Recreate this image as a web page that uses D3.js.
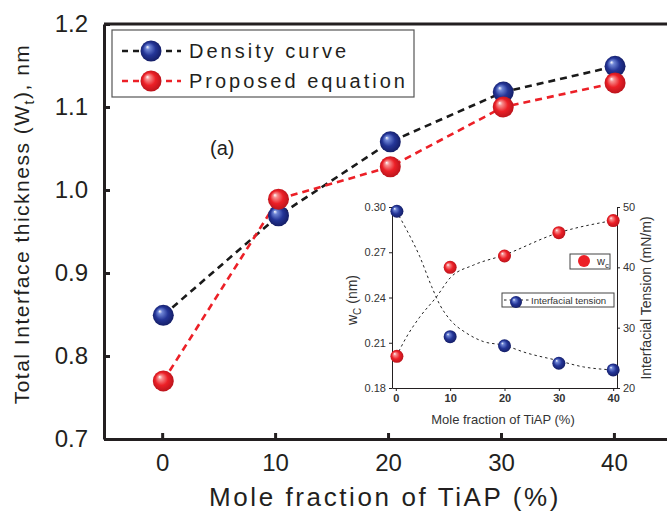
<!DOCTYPE html>
<html>
<head>
<meta charset="utf-8">
<script src="https://cdn.jsdelivr.net/npm/d3@7/dist/d3.min.js"></script>
<style>
	body { margin: 0; background: #fff; }
	svg { display: block; font-family: Arial, "Liberation Sans", sans-serif; }
</style>
</head>
<body>
<div id="render"></div>
<script>
// main chart data
const moleFraction = [0.1, 10.3, 20.2, 30.2, 40.1];
const densityCurve = [0.849, 0.969, 1.058, 1.118, 1.149];
const proposedEquation = [0.770, 0.989, 1.028, 1.100, 1.129];
const xTicks = [0, 10, 20, 30, 40];
const yTicks = [0.7, 0.8, 0.9, 1.0, 1.1, 1.2];

// inset data
const insetX = [0.2, 10, 20, 30, 40];
const wcValues = [0.201, 0.260, 0.2675, 0.283, 0.291];
const tensionValues = [49.3, 28.5, 27.0, 24.1, 23.0];
const wcFitX = [0.1, 2, 4.4, 7.5, 10, 14.3, 19.8, 29.6, 39.9];
const wcFit = [0.201, 0.214, 0.227, 0.2405, 0.253, 0.2615, 0.268, 0.2825, 0.291];
const tensionFitX = [0.1, 2, 4.4, 6.6, 8.1, 10, 13, 16.1, 19.8, 24.1, 29.6, 34.5, 39.9];
const tensionFit = [49.3, 46.2, 41.8, 36.8, 33.8, 31.3, 29.1, 27.7, 27.1, 25.8, 24.6, 23.5, 23.0];
const insetYTicks = [0.18, 0.21, 0.24, 0.27, 0.30];
const insetRightTicks = [20, 30, 40, 50];

const INK = '#231f20';
const W = 667, H = 517;

const attrs = (sel, _attrs)=>{
	for (const i in _attrs) {
		sel.attr(i, _attrs[i]);
	}
	return sel;
};

const svg = d3.select('#render').append('svg');
attrs(svg, { width: W, height: H, viewBox: `0 0 ${W} ${H}` });

// sphere gradients
const defs = svg.append('defs');
const sphere = (id, light, base, dark)=>{
	const g = attrs(defs.append('radialGradient'), { id, cx: '50%', cy: '50%', r: '55%', fx: '32%', fy: '30%' });
	g.append('stop').attr('offset', '0%').attr('stop-color', '#ffffff');
	g.append('stop').attr('offset', '18%').attr('stop-color', light);
	g.append('stop').attr('offset', '55%').attr('stop-color', base);
	g.append('stop').attr('offset', '100%').attr('stop-color', dark);
};
sphere('blueBall', '#6f86d6', '#243597', '#121a5e');
sphere('redBall', '#f79090', '#ec2027', '#b3121a');

// main scales
const x = d3.scaleLinear().domain([-5.15, 44.7]).range([104, 667]);
const y = d3.scaleLinear().domain([0.7, 1.2]).range([439, 24]);

const styleAxis = (g, size)=>{
	g.select('.domain').attr('stroke', INK).attr('stroke-width', 3);
	g.selectAll('.tick line').attr('stroke', INK).attr('stroke-width', 3);
	g.selectAll('.tick text').attr('fill', INK).attr('font-family', null).style('font-size', size + 'px');
};

const gx = svg.append('g').attr('transform', 'translate(0,439)')
	.call(d3.axisBottom(x).tickValues(xTicks).tickSizeInner(-6).tickSizeOuter(0).tickPadding(15).tickFormat(d3.format('d')));
styleAxis(gx, 24);

const gy = svg.append('g').attr('transform', 'translate(104,0)')
	.call(d3.axisLeft(y).tickValues(yTicks).tickSizeInner(-6).tickSizeOuter(0).tickPadding(16).tickFormat(d3.format('.1f')));
styleAxis(gy, 24);

// top frame line
attrs(svg.append('line'), { x1: 104, x2: W, y1: y(1.2), y2: y(1.2), stroke: INK, 'stroke-width': 3 });

// axis titles
attrs(svg.append('text'), { x: 385, y: 506, 'text-anchor': 'middle', fill: INK })
	.style('font-size', '26px').style('letter-spacing', '2.6px')
	.text('Mole fraction of TiAP (%)');

const yTitle = attrs(svg.append('text'), { transform: 'translate(29,224) rotate(-90)', 'text-anchor': 'middle', fill: INK })
	.style('font-size', '21px').style('letter-spacing', '1.5px');
yTitle.append('tspan').text('Total Interface thickness (W');
yTitle.append('tspan').attr('dy', 5).style('font-size', '14px').text('t');
yTitle.append('tspan').attr('dy', -5).text('), nm');

attrs(svg.append('text'), { x: 210, y: 155, fill: INK }).style('font-size', '20px').text('(a)');

// curves
const curve = (xs, ys, sx, sy, crv)=>d3.line().x((d, i)=>sx(xs[i])).y(d=>sy(d)).curve(crv)(ys);

attrs(svg.append('path'), {
	d: curve(moleFraction, densityCurve, x, y, d3.curveLinear),
	fill: 'none', stroke: '#1a1a1a', 'stroke-width': 2.6, 'stroke-dasharray': '7,5'
});
attrs(svg.append('path'), {
	d: curve(moleFraction, proposedEquation, x, y, d3.curveLinear),
	fill: 'none', stroke: '#ec2027', 'stroke-width': 2.6, 'stroke-dasharray': '7,5'
});

const balls = (data, xs, sx, sy, grad, r, parent)=>{
	parent.append('g').selectAll('circle').data(data).join('circle')
		.attr('cx', (d, i)=>sx(xs[i])).attr('cy', d=>sy(d)).attr('r', r)
		.attr('fill', `url(#${grad})`);
};
balls(densityCurve, moleFraction, x, y, 'blueBall', 10.5, svg);
balls(proposedEquation, moleFraction, x, y, 'redBall', 10.5, svg);

// legend
const legend = svg.append('g');
attrs(legend.append('rect'), { x: 112, y: 30, width: 302, height: 67, fill: '#fff', stroke: '#555', 'stroke-width': 1.2 });
const legendItems = [
	{ label: 'Density curve', stroke: '#1a1a1a', grad: 'blueBall', cy: 51 },
	{ label: 'Proposed equation', stroke: '#ec2027', grad: 'redBall', cy: 81 },
];
legendItems.forEach(it=>{
	attrs(legend.append('line'), { x1: 122, x2: 181, y1: it.cy, y2: it.cy, stroke: it.stroke, 'stroke-width': 2.6, 'stroke-dasharray': '6,5' });
	attrs(legend.append('circle'), { cx: 151, cy: it.cy, r: 10.5, fill: `url(#${it.grad})` });
	attrs(legend.append('text'), { x: 189, y: it.cy + 7, fill: INK })
		.style('font-size', '20px').style('letter-spacing', '3px').text(it.label);
});

// inset
const inset = svg.append('g');
const ix = d3.scaleLinear().domain([-0.7, 40.7]).range([392, 617]);
const iyL = d3.scaleLinear().domain([0.18, 0.30]).range([388, 207]);
const iyR = d3.scaleLinear().domain([20, 50]).range([388, 207]);

const styleInset = (g)=>{
	g.select('.domain').attr('stroke', INK).attr('stroke-width', 1);
	g.selectAll('.tick line').attr('stroke', INK).attr('stroke-width', 1);
	g.selectAll('.tick text').attr('fill', '#333').attr('font-family', null).style('font-size', '11px');
};
const ixAxis = inset.append('g').attr('transform', 'translate(0,388)')
	.call(d3.axisBottom(ix).tickValues(xTicks).tickSizeInner(3).tickSizeOuter(0).tickPadding(3).tickFormat(d3.format('d')));
styleInset(ixAxis);
ixAxis.selectAll('.tick text').style('font-weight', 'bold');
const iyLAxis = inset.append('g').attr('transform', 'translate(392,0)')
	.call(d3.axisLeft(iyL).tickValues(insetYTicks).tickSizeInner(3).tickSizeOuter(0).tickPadding(3).tickFormat(d3.format('.2f')));
styleInset(iyLAxis);
const iyRAxis = inset.append('g').attr('transform', 'translate(617,0)')
	.call(d3.axisRight(iyR).tickValues(insetRightTicks).tickSizeInner(3).tickSizeOuter(0).tickPadding(3).tickFormat(d3.format('d')));
styleInset(iyRAxis);

attrs(inset.append('text'), { x: 503, y: 424, 'text-anchor': 'middle', fill: '#333' })
	.style('font-size', '13px').text('Mole fraction of TiAP (%)');
const wcTitle = attrs(inset.append('text'), { transform: 'translate(357,300) rotate(-90)', 'text-anchor': 'middle', fill: '#333' })
	.style('font-size', '14px');
wcTitle.append('tspan').text('w');
wcTitle.append('tspan').attr('dy', 4).style('font-size', '10px').text('C');
wcTitle.append('tspan').attr('dy', -4).text(' (nm)');
attrs(inset.append('text'), { transform: 'translate(651,298) rotate(-90)', 'text-anchor': 'middle', fill: '#333' })
	.style('font-size', '14px').text('Interfacial Tension (mN/m)');

attrs(inset.append('path'), {
	d: curve(wcFitX, wcFit, ix, iyL, d3.curveMonotoneX),
	fill: 'none', stroke: '#222', 'stroke-width': 1, 'stroke-dasharray': '2.5,3'
});
attrs(inset.append('path'), {
	d: curve(tensionFitX, tensionFit, ix, iyR, d3.curveMonotoneX),
	fill: 'none', stroke: '#222', 'stroke-width': 1, 'stroke-dasharray': '2.5,3'
});
balls(wcValues, insetX, ix, iyL, 'redBall', 6.5, inset);
balls(tensionValues, insetX, ix, iyR, 'blueBall', 6.5, inset);

// inset legends
attrs(inset.append('rect'), { x: 570, y: 254, width: 40, height: 15, fill: '#fff', stroke: '#444', 'stroke-width': 1 });
attrs(inset.append('circle'), { cx: 584, cy: 261, r: 6, fill: '#ec2027' });
const wcLab = attrs(inset.append('text'), { x: 597, y: 265, fill: '#333' }).style('font-size', '11px');
wcLab.append('tspan').text('w');
wcLab.append('tspan').attr('dy', 3).style('font-size', '8px').text('c');

attrs(inset.append('rect'), { x: 502, y: 293, width: 112, height: 14, fill: '#fff', stroke: '#444', 'stroke-width': 1 });
attrs(inset.append('line'), { x1: 504, x2: 530, y1: 300, y2: 300, stroke: '#222', 'stroke-width': 1, 'stroke-dasharray': '2.5,3' });
attrs(inset.append('circle'), { cx: 516, cy: 302, r: 6, fill: 'url(#blueBall)' });
attrs(inset.append('text'), { x: 531, y: 304, fill: '#333' })
	.style('font-size', '9.6px').text('Interfacial tension');
</script>
</body>
</html>
